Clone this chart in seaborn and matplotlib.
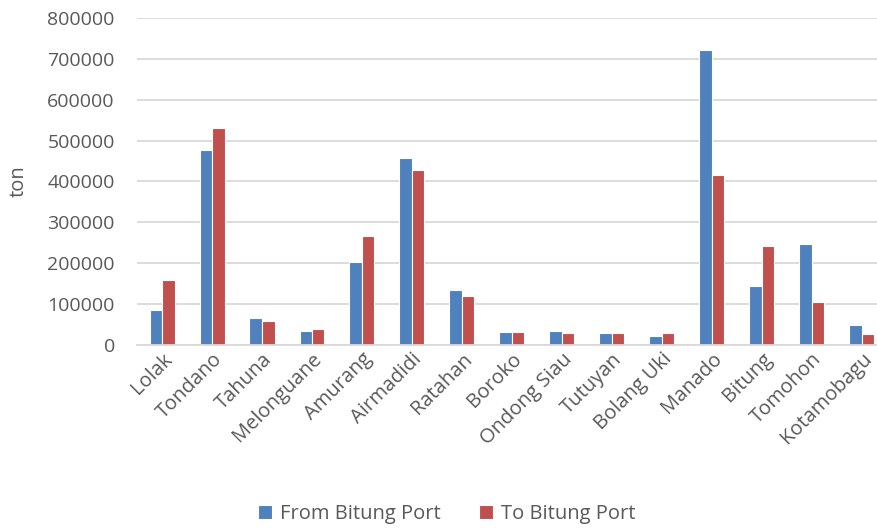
import matplotlib
matplotlib.use("Agg")
import matplotlib.pyplot as plt
import seaborn as sns
import pandas as pd

# Freight volumes per town (ton)
towns = ["Lolak", "Tondano", "Tahuna", "Melonguane", "Amurang", "Airmadidi",
         "Ratahan", "Boroko", "Ondong Siau", "Tutuyan", "Bolang Uki", "Manado",
         "Bitung", "Tomohon", "Kotamobagu"]
from_bitung = [86000, 478000, 65000, 34000, 202000, 458000, 134000, 33000,
               34000, 29000, 22000, 721000, 144000, 247000, 49000]
to_bitung = [158000, 531000, 58000, 39000, 266000, 429000, 119000, 33000,
             29000, 29000, 29000, 416000, 241000, 106000, 27000]
series_names = ["From Bitung Port", "To Bitung Port"]
y_ticks = [0, 100000, 200000, 300000, 400000, 500000, 600000, 700000, 800000]

df = pd.DataFrame({
    "town": towns * 2,
    "ton": from_bitung + to_bitung,
    "series": [series_names[0]] * len(towns) + [series_names[1]] * len(towns),
})

sns.set_theme(style="white")
plt.rcParams["font.family"] = ["Open Sans", "DejaVu Sans"]

text_color = "#595959"
fig = plt.figure(figsize=(8.78, 5.29), dpi=100)
W, H = 878, 529
ax = fig.add_axes([137 / W, 1 - 345 / H, 750 / W, (345 - 18) / H])

sns.barplot(data=df, x="town", y="ton", hue="series",
            palette=["#4F81BD", "#C0504D"], saturation=1, width=0.5,
            edgecolor="white", linewidth=0.8, ax=ax, legend=True)

ax.set_ylim(0, 800000)
ax.set_xlim(-0.5, 14.5)
ax.set_yticks(y_ticks)
ax.set_yticklabels([str(v) for v in y_ticks])
ax.yaxis.grid(True, color="#D9D9D9", linewidth=1.3)
ax.set_axisbelow(True)
for s in ["top", "right", "left"]:
    ax.spines[s].set_visible(False)
ax.spines["bottom"].set_color("#D9D9D9")
ax.spines["bottom"].set_linewidth(1.3)

ax.tick_params(axis="y", length=0, pad=16, labelsize=14, labelcolor=text_color)
ax.tick_params(axis="x", length=0, pad=3, labelsize=14.5, labelcolor=text_color)
for lbl in ax.get_xticklabels():
    lbl.set_rotation(45)
    lbl.set_ha("right")
    lbl.set_rotation_mode("anchor")

ax.set_xlabel("")
ax.set_ylabel("ton", fontsize=14.5, color=text_color)
ax.yaxis.set_label_coords(-0.145, 0.5)

handles, labels = ax.get_legend_handles_labels()
ax.legend_.remove()
fig.legend(handles, labels, loc="center", bbox_to_anchor=(447 / W, 1 - 514 / H),
           ncol=2, frameon=False, fontsize=14.5, labelcolor=text_color,
           handlelength=0.7, handleheight=0.7, handletextpad=0.4,
           columnspacing=1.9)

fig.savefig("out.png", dpi=100)
